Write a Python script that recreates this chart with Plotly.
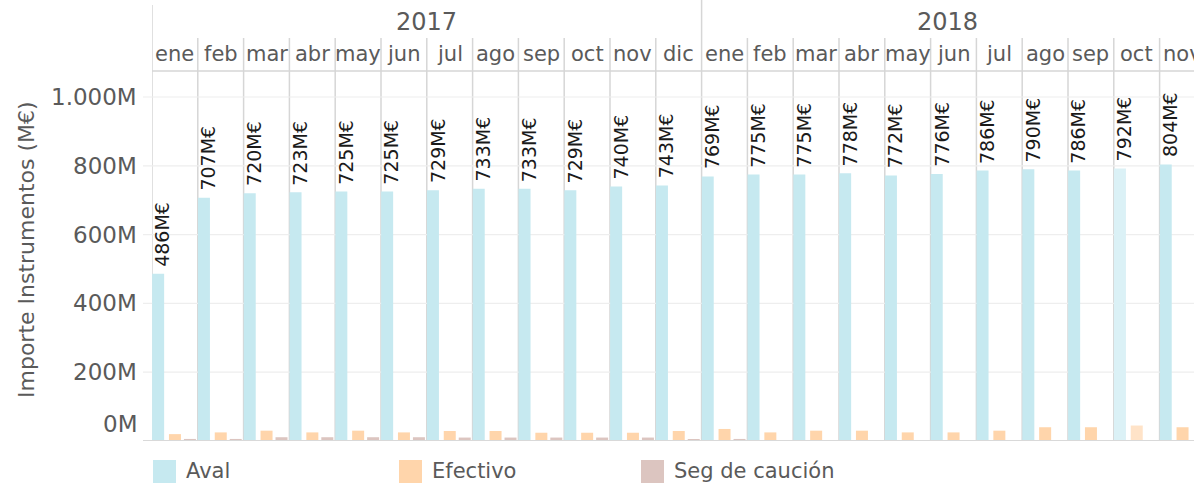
import plotly.graph_objects as go

# ---------------- data ----------------
years = ["2017"] * 12 + ["2018"] * 11
months = ["ene", "feb", "mar", "abr", "may", "jun", "jul", "ago", "sep", "oct", "nov", "dic",
          "ene", "feb", "mar", "abr", "may", "jun", "jul", "ago", "sep", "oct", "nov"]
aval = [486, 707, 720, 723, 725, 725, 729, 733, 733, 729, 740, 743,
        769, 775, 775, 778, 772, 776, 786, 790, 786, 792, 804]
efectivo = [20, 25, 30, 25, 30, 25, 29, 29, 24, 24, 24, 29,
            35, 25, 30, 30, 25, 25, 30, 40, 40, 45, 40]
seg_caucion = [6, 6, 11, 11, 11, 11, 10, 10, 10, 10, 10, 5,
               6, 0, 0, 0, 0, 0, 0, 0, 0, 0, 0]
y_ticks = [0, 200, 400, 600, 800, 1000]
y_tick_labels = ["0M", "200M", "400M", "600M", "800M", "1.000M"]
series_names = ["Aval", "Efectivo", "Seg de caución"]
highlight_idx = 21  # 2018 oct appears faded

# ---------------- style ----------------
FONT = "DejaVu Sans"
GRAY = "#5a5a5a"
C_AVAL, C_AVAL_L = "#c6e9f0", "#dbf1f6"
C_EF, C_EF_L = "#ffd5ab", "#ffe3c8"
C_SEG = "#dcc5c0"
SEP = "#d6d6d6"

x = list(range(len(months)))
W = 1194
H = 487
L, R, T, B = 152, 0, 71, 46
pw = W - L - R
ph = H - T - B
col_px = 45.8
x_max = -0.5 + pw / col_px
y_max = ph / 0.344

def px_to_paper_y(py):
    return (H - B - py) / ph

def px_to_paper_x(pxx):
    return (pxx - L) / pw

bw = 12 / col_px

aval_colors = [C_AVAL_L if i == highlight_idx else C_AVAL for i in x]
ef_colors = [C_EF_L if i == highlight_idx else C_EF for i in x]

fig = go.Figure()
fig.add_trace(go.Bar(
    x=x, y=aval, name=series_names[0], marker=dict(color=aval_colors, line=dict(width=0)),
    width=bw, offset=-0.497, showlegend=False,
))
fig.add_trace(go.Bar(
    x=x, y=efectivo, name=series_names[1], marker=dict(color=ef_colors, line=dict(width=0)),
    width=bw, offset=-0.130, showlegend=False,
))
fig.add_trace(go.Bar(
    x=x, y=seg_caucion, name=series_names[2], marker=dict(color=C_SEG, line=dict(width=0)),
    width=bw, offset=0.197, showlegend=False,
))

shapes = []
annotations = []

# value labels on Aval bars (rotated)
for i, v in zip(x, aval):
    annotations.append(dict(x=i - 0.27, y=v, xref="x", yref="y", text=f"{v}M€",
                            textangle=-90, showarrow=False, xanchor="center", yanchor="bottom",
                            yshift=5, font=dict(family=FONT, size=19, color="#1a1a1a")))

# column separators
for i in x[1:]:
    top = 1 + (T - 0) / ph if years[i] != years[i - 1] else 1 + (T - 38) / ph
    shapes.append(dict(type="line", xref="x", yref="paper", x0=i - 0.5, x1=i - 0.5,
                       y0=0, y1=top, line=dict(color=SEP, width=1.5), layer="below"))
shapes.append(dict(type="line", xref="x", yref="paper", x0=-0.5, x1=-0.5,
                   y0=0, y1=1 + (T - 5) / ph, line=dict(color=SEP, width=1.5), layer="below"))
# header bottom line
shapes.append(dict(type="line", xref="paper", yref="paper", x0=0, x1=1, y0=1, y1=1,
                   line=dict(color=SEP, width=1.5)))
# horizontal gridlines (extend slightly left of the plot)
for v in y_ticks[1:]:
    shapes.append(dict(type="line", xref="paper", yref="y", x0=px_to_paper_x(143), x1=1,
                       y0=v, y1=v, line=dict(color="#eeeeee", width=1.2), layer="below"))
# baseline
shapes.append(dict(type="line", xref="paper", yref="y", x0=px_to_paper_x(143), x1=1,
                   y0=0, y1=0, line=dict(color="#d9d9d9", width=2)))

# month labels
for i in x:
    annotations.append(dict(x=i, y=px_to_paper_y(54), xref="x", yref="paper", text=months[i],
                            showarrow=False, xanchor="center", yanchor="middle",
                            font=dict(family=FONT, size=21, color=GRAY)))
# year labels (centered over visible part)
yr_unique = []
for yv in years:
    if yv not in yr_unique:
        yr_unique.append(yv)
for yv in yr_unique:
    idx = [i for i in x if years[i] == yv]
    lo = idx[0] - 0.5
    hi = min(idx[-1] + 0.5, x_max)
    annotations.append(dict(x=(lo + hi) / 2, y=px_to_paper_y(22), xref="x", yref="paper", text=yv,
                            showarrow=False, xanchor="center", yanchor="middle",
                            font=dict(family=FONT, size=24, color=GRAY)))

# y tick labels
for v, t in zip(y_ticks, y_tick_labels):
    annotations.append(dict(x=px_to_paper_x(139), y=v, xref="paper", yref="y", text=t,
                            showarrow=False, xanchor="right", yanchor="middle",
                            yshift=17 if v == 0 else 0,
                            font=dict(family=FONT, size=23, color=GRAY)))
# y axis title
annotations.append(dict(x=px_to_paper_x(26), y=px_to_paper_y(250), xref="paper", yref="paper",
                        text="Importe Instrumentos (M€)", textangle=-90, showarrow=False,
                        xanchor="center", yanchor="middle",
                        font=dict(family=FONT, size=22, color=GRAY)))

# legend (manual)
legend_items = [(series_names[0], C_AVAL, 153), (series_names[1], C_EF, 399), (series_names[2], C_SEG, 641)]
for name, col, x0 in legend_items:
    shapes.append(dict(type="rect", xref="paper", yref="paper",
                       x0=px_to_paper_x(x0), x1=px_to_paper_x(x0 + 23),
                       y0=px_to_paper_y(460), y1=px_to_paper_y(483),
                       fillcolor=col, line=dict(width=0)))
    annotations.append(dict(x=px_to_paper_x(x0 + 31), y=px_to_paper_y(471), xref="paper", yref="paper",
                            text=name, showarrow=False, xanchor="left", yanchor="middle",
                            font=dict(family=FONT, size=21, color=GRAY)))

fig.update_layout(
    width=W, height=H,
    margin=dict(l=L, r=R, t=T, b=B, pad=0),
    paper_bgcolor="white", plot_bgcolor="white",
    barmode="overlay",
    xaxis=dict(range=[-0.5, x_max], showticklabels=False, showgrid=False, zeroline=False,
               showline=False, ticks=""),
    yaxis=dict(range=[0, y_max], showticklabels=False, showgrid=False, zeroline=False,
               showline=False, ticks=""),
    shapes=shapes, annotations=annotations,
    font=dict(family=FONT),
)

fig.write_html("out.html", config={"displayModeBar": False},
               post_script="document.body.style.margin='0';")
